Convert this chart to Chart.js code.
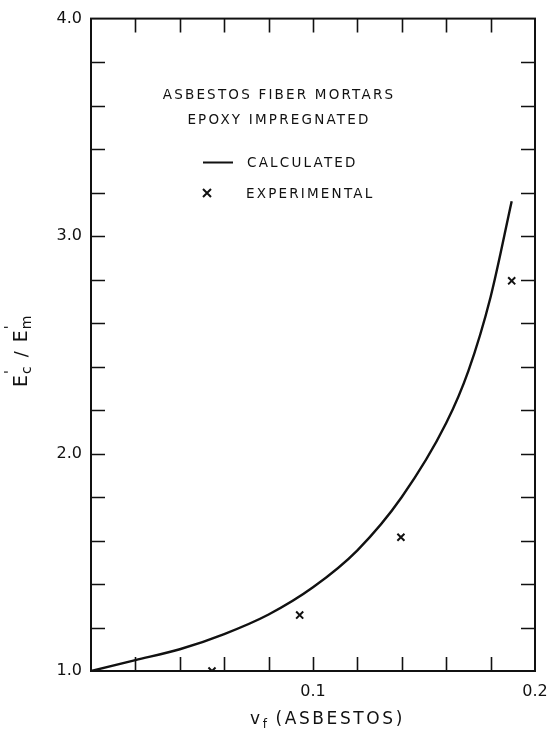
<!DOCTYPE html>
<html>
<head>
<meta charset="utf-8">
<script src="https://cdn.jsdelivr.net/npm/chart.js@4/dist/chart.umd.min.js"></script>
<style>
  html, body { margin: 0; padding: 0; background: #fff; }
  #wrap { width: 553px; height: 734px; position: relative; }
</style>
</head>
<body>
<div id="wrap"><canvas id="modulusChart"></canvas></div>
<script>
/* ---- data ---- */
// calculated curve, Ec'/Em' vs vf
const calcVf    = [0, 0.02, 0.04, 0.06, 0.08, 0.10, 0.12, 0.14, 0.16, 0.17, 0.18, 0.1895];
const calcRatio = [1.0, 1.05, 1.10, 1.17, 1.26, 1.385, 1.555, 1.80, 2.14, 2.38, 2.72, 3.16];

// experimental points
const expVf    = [0.0545, 0.094, 0.1396, 0.1895];
const expRatio = [1.0, 1.257, 1.615, 2.794];

// labelled ticks
const xTickLabels = [0.1, 0.2];
const yTickLabels = [1, 2, 3, 4];

const headingLines = ['ASBESTOS FIBER MORTARS', 'EPOXY IMPREGNATED'];
const legendCalc = 'CALCULATED';
const legendExp = 'EXPERIMENTAL';

const FONT = '"DejaVu Sans", "Liberation Sans", sans-serif';
const INK = '#111';

const near = (v, list) => list.some(t => Math.abs(v - t) < 1e-6);

/* ---- inward tick marks on all four sides + frame ---- */
const frameTicks = {
    id: 'frameTicks',
    beforeDatasetsDraw(chart) {
        const { ctx, chartArea: a, scales: { x, y } } = chart;
        const len = 14;
        ctx.save();
        ctx.strokeStyle = INK;
        ctx.lineWidth = 1.6;
        ctx.beginPath();
        x.ticks.forEach(t => {
            if (t.value <= x.min + 1e-9 || t.value >= x.max - 1e-9) return;
            const px = Math.round(x.getPixelForValue(t.value)) + 0.5;
            ctx.moveTo(px, a.bottom); ctx.lineTo(px, a.bottom - len);
            ctx.moveTo(px, a.top); ctx.lineTo(px, a.top + len);
        });
        y.ticks.forEach(t => {
            if (t.value <= y.min + 1e-9 || t.value >= y.max - 1e-9) return;
            const py = Math.round(y.getPixelForValue(t.value)) + 0.5;
            ctx.moveTo(a.left, py); ctx.lineTo(a.left + len, py);
            ctx.moveTo(a.right, py); ctx.lineTo(a.right - len, py);
        });
        ctx.stroke();
        ctx.lineWidth = 2;
        ctx.strokeRect(a.left, a.top, a.right - a.left, a.bottom - a.top);
        ctx.restore();
    }
};

/* ---- text: heading, legend, axis titles ---- */
function drawRuns(ctx, runs, x0, y0) {
    let cx = x0;
    runs.forEach(r => {
        ctx.font = r.size + 'px ' + FONT;
        ctx.fillText(r.t, cx, y0 + (r.dy || 0));
        if (!r.noAdvance) cx += ctx.measureText(r.t).width + (r.gap || 0);
    });
    return cx - x0;
}

const annotations = {
    id: 'annotations',
    afterDraw(chart) {
        const { ctx } = chart;
        ctx.save();
        ctx.fillStyle = INK;
        ctx.strokeStyle = INK;
        ctx.textBaseline = 'middle';

        // heading
        ctx.font = '13.5px ' + FONT;
        ctx.letterSpacing = '2.2px';
        ctx.textAlign = 'center';
        ctx.fillText(headingLines[0], 279, 95);
        ctx.fillText(headingLines[1], 279, 120);

        // legend
        ctx.textAlign = 'left';
        ctx.fillText(legendCalc, 247, 163);
        ctx.fillText(legendExp, 246, 194);
        ctx.lineWidth = 2;
        ctx.beginPath();
        ctx.moveTo(203, 162.5); ctx.lineTo(233, 162.5);
        ctx.moveTo(203, 189); ctx.lineTo(211, 197);
        ctx.moveTo(211, 189); ctx.lineTo(203, 197);
        ctx.stroke();

        // x axis title: v_f (ASBESTOS)
        ctx.letterSpacing = '2.6px';
        ctx.textBaseline = 'alphabetic';
        drawRuns(ctx, [
            { t: 'v', size: 17 },
            { t: 'f', size: 12, dy: 4, gap: 6 },
            { t: '(ASBESTOS)', size: 17 }
        ], 250, 724);

        // y axis title: E'c / E'm, rotated
        ctx.letterSpacing = '0px';
        ctx.translate(27, 340);
        ctx.rotate(-Math.PI / 2);
        drawRuns(ctx, [
            { t: 'E', size: 19, gap: 1 },
            { t: "'", size: 14, dy: -13, noAdvance: true },
            { t: 'c', size: 14, dy: 4, gap: 9 },
            { t: '/', size: 18, gap: 9 },
            { t: 'E', size: 19, gap: 1 },
            { t: "'", size: 14, dy: -13, noAdvance: true },
            { t: 'm', size: 14, dy: 4 }
        ], -47, 0);
        ctx.restore();
    }
};

/* ---- chart ---- */
const ctx = document.getElementById('modulusChart').getContext('2d');
new Chart(ctx, {
    type: 'scatter',
    data: {
        datasets: [
            {
                label: legendCalc,
                data: calcVf.map((v, i) => ({ x: v, y: calcRatio[i] })),
                showLine: true,
                borderColor: INK,
                borderWidth: 2.4,
                pointRadius: 0,
                cubicInterpolationMode: 'monotone',
                fill: false
            },
            {
                label: legendExp,
                data: expVf.map((v, i) => ({ x: v, y: expRatio[i] })),
                showLine: false,
                pointStyle: 'crossRot',
                pointRadius: 5,
                borderWidth: 2,
                borderColor: INK,
                backgroundColor: INK
            }
        ]
    },
    options: {
        responsive: true,
        maintainAspectRatio: false,
        animation: false,
        layout: { padding: { top: 16, right: 18, left: 0, bottom: 0 } },
        plugins: {
            legend: { display: false },
            tooltip: { enabled: false }
        },
        scales: {
            x: {
                type: 'linear',
                min: 0,
                max: 0.2,
                afterFit: s => { s.height = 63; s.paddingRight = 0; s.paddingLeft = 0; },
                border: { display: false },
                grid: { display: false, drawTicks: false },
                ticks: {
                    stepSize: 0.02,
                    autoSkip: false,
                    maxRotation: 0,
                    padding: 11,
                    color: INK,
                    font: { family: FONT, size: 16 },
                    callback: v => near(v, xTickLabels) ? v.toFixed(1) : ''
                }
            },
            y: {
                type: 'linear',
                min: 1,
                max: 4,
                afterFit: s => { s.width = 91; },
                border: { display: false },
                grid: { display: false, drawTicks: false },
                ticks: {
                    stepSize: 0.2,
                    autoSkip: false,
                    padding: 9,
                    color: INK,
                    font: { family: FONT, size: 16 },
                    callback: v => near(v, yTickLabels) ? v.toFixed(1) : ''
                }
            }
        }
    },
    plugins: [frameTicks, annotations]
});
</script>
</body>
</html>
